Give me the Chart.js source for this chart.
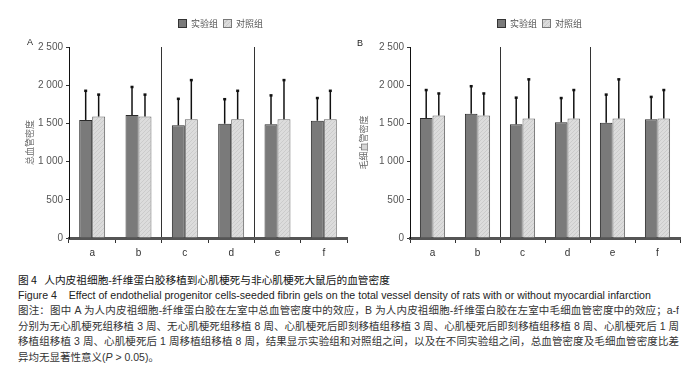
<!DOCTYPE html>
<html>
<head>
<meta charset="utf-8">
<script src="https://cdn.jsdelivr.net/npm/chart.js@4.4.0/dist/chart.umd.min.js"></script>
<style>
  body { margin: 0; background: #fff; width: 689px; height: 381px; position: relative; overflow: hidden;
         font-family: "Liberation Sans", "Noto Sans CJK SC", sans-serif; }
  canvas { position: absolute; top: 0; }
  .panel { position: absolute; font-size: 9px; color: #222; }
  .legend { position: absolute; top: 18px; font-size: 9px; color: #555; font-family: "Noto Sans CJK SC", sans-serif;
            white-space: nowrap; line-height: 11px; }
  .legend i { display: inline-block; width: 9px; height: 9px; vertical-align: -1px; margin-right: 4px; box-sizing: border-box; }
  .legend .dark { background: #7a7a7a; border: 1px solid #333; }
  .legend .light { background: repeating-linear-gradient(135deg, #dcdcdc 0 2px, #c9c9c9 2px 3px); border: 1px solid #777; margin-left: 5px; }
  #caption { position: absolute; left: 18px; top: 272px; width: 661px; }
  #caption div { height: 15.5px; line-height: 15.5px; white-space: nowrap; font-size: 10.5px; color: #333; }
  #caption .t1 { color: #111; font-size: 10.7px; font-family: "Noto Sans CJK SC", sans-serif; }
  #caption .t2 { color: #222; font-size: 10.6px; }
  #caption .j { text-align: justify; text-align-last: justify; white-space: normal; overflow: hidden; }
</style>
</head>
<body>
<canvas id="chartA" width="348" height="265" style="left:0"></canvas>
<canvas id="chartB" width="344" height="265" style="left:345px"></canvas>
<div class="panel" style="left:27px;top:37px">A</div>
<div class="panel" style="left:357px;top:38px">B</div>
<div class="legend" style="left:178px"><i class="dark"></i>实验组<i class="light"></i>对照组</div>
<div class="legend" style="left:497px"><i class="dark"></i>实验组<i class="light"></i>对照组</div>
<div id="caption">
  <div class="t1">图 4&nbsp;&nbsp;&nbsp;人内皮祖细胞-纤维蛋白胶移植到心肌梗死与非心肌梗死大鼠后的血管密度</div>
  <div class="t2">Figure 4&nbsp;&nbsp;&nbsp;&nbsp;Effect of endothelial progenitor cells-seeded fibrin gels on the total vessel density of rats with or without myocardial infarction</div>
  <div class="j">图注：图中 A 为人内皮祖细胞-纤维蛋白胶在左室中总血管密度中的效应，B 为人内皮祖细胞-纤维蛋白胶在左室中毛细血管密度中的效应；a-f</div>
  <div class="j">分别为无心肌梗死组移植 3 周、无心肌梗死组移植 8 周、心肌梗死后即刻移植组移植 3 周、心肌梗死后即刻移植组移植 8 周、心肌梗死后 1 周</div>
  <div class="j">移植组移植 3 周、心肌梗死后 1 周移植组移植 8 周，结果显示实验组和对照组之间，以及在不同实验组之间，总血管密度及毛细血管密度比差</div>
  <div>异均无显著性意义(<i>P</i> &gt; 0.05)。</div>
</div>
<script>
const categories = ['a', 'b', 'c', 'd', 'e', 'f'];
const yTicks = [0, 500, 1000, 1500, 2000, 2500];

// A: total vessel density (mean, SD)
const totalExp = [1545, 1610, 1475, 1495, 1490, 1535];
const totalExpSd = [385, 370, 350, 325, 380, 300];
const totalCtrl = [1590, 1590, 1555, 1555, 1555, 1555];
const totalCtrlSd = [290, 290, 515, 375, 515, 375];

// B: capillary density
const capExp = [1570, 1625, 1490, 1515, 1510, 1555];
const capExpSd = [370, 365, 350, 320, 370, 295];
const capCtrl = [1605, 1605, 1565, 1565, 1565, 1565];
const capCtrlSd = [290, 290, 515, 375, 515, 375];

function hatch() {
    const c = document.createElement('canvas');
    c.width = 4; c.height = 4;
    const g = c.getContext('2d');
    g.fillStyle = '#dcdcdc';
    g.fillRect(0, 0, 4, 4);
    g.strokeStyle = '#cbcbcb';
    g.lineWidth = 1;
    g.beginPath(); g.moveTo(0, 4); g.lineTo(4, 0); g.stroke();
    return g.createPattern(c, 'repeat');
}

// upper error bars
const errorBars = {
    id: 'errorBars',
    afterDatasetsDraw(chart) {
        const ctx = chart.ctx, y = chart.scales.y;
        chart.data.datasets.forEach((ds, di) => {
            chart.getDatasetMeta(di).data.forEach((bar, i) => {
                const top = y.getPixelForValue(ds.data[i] + ds.sd[i]);
                ctx.save();
                ctx.strokeStyle = '#111';
                ctx.lineWidth = 1.5;
                ctx.beginPath();
                ctx.moveTo(bar.x, bar.y);
                ctx.lineTo(bar.x, top);
                ctx.stroke();
                ctx.fillStyle = '#111';
                ctx.fillRect(bar.x - 1.5, top - 1, 3, 2.5);
                ctx.restore();
            });
        });
    }
};

function makeChart(id, exp, expSd, ctrl, ctrlSd, yTitle, padL, yW, padR) {
    new Chart(document.getElementById(id).getContext('2d'), {
        type: 'bar',
        data: {
            labels: categories,
            datasets: [{
                label: '实验组',
                data: exp,
                sd: expSd,
                backgroundColor: '#7a7a7a',
                borderColor: '#2a2a2a',
                borderWidth: 1,
                categoryPercentage: 0.56,
                barPercentage: 1.0
            }, {
                label: '对照组',
                data: ctrl,
                sd: ctrlSd,
                backgroundColor: hatch(),
                borderColor: '#666',
                borderWidth: 1,
                categoryPercentage: 0.56,
                barPercentage: 1.0
            }]
        },
        options: {
            responsive: false,
            animation: false,
            layout: { padding: { left: padL, right: padR, top: 47, bottom: 5 } },
            plugins: { legend: { display: false }, tooltip: { enabled: false } },
            scales: {
                x: {
                    grid: {
                        offset: true,
                        color: c => (c.index === 2 || c.index === 4) ? '#333' : 'rgba(0,0,0,0)',
                        tickColor: '#333',
                        tickLength: 5
                    },
                    border: { color: '#555', width: 3 },
                    ticks: { color: '#333', font: { size: 10 }, padding: 4 },
                    afterFit: s => { s.height = 22; }
                },
                y: {
                    min: 0,
                    max: 2500,
                    afterBuildTicks: s => { s.ticks = yTicks.map(v => ({ value: v })); },
                    ticks: {
                        color: '#555',
                        font: { size: 10 },
                        padding: 3,
                        callback: v => String(v).replace(/\B(?=(\d{3})+$)/g, ' ')
                    },
                    grid: { drawOnChartArea: false, tickLength: 3, tickColor: '#333' },
                    border: { color: '#111', width: 1 },
                    title: {
                        display: true,
                        text: yTitle,
                        color: '#666',
                        font: { size: 9, family: 'Noto Sans CJK SC' },
                        padding: { top: 3, bottom: 0 }
                    },
                    afterFit: s => { s.width = yW; }
                }
            }
        },
        plugins: [errorBars]
    });
}

makeChart('chartA', totalExp, totalExpSd, totalCtrl, totalCtrlSd, '总血管密度', 21, 48, 1);
makeChart('chartB', capExp, capExpSd, capCtrl, capCtrlSd, '毛细血管密度', 10, 55, 9);
</script>
</body>
</html>
